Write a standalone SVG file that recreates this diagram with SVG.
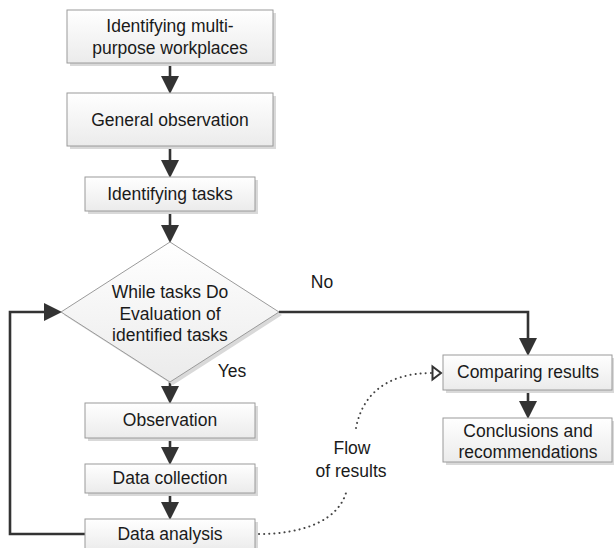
<svg xmlns="http://www.w3.org/2000/svg" width="614" height="548" viewBox="0 0 614 548">
<defs>
<linearGradient id="g" x1="0" y1="0" x2="0" y2="1">
<stop offset="0" stop-color="#ffffff"/>
<stop offset="1" stop-color="#ebebeb"/>
</linearGradient>
<marker id="ah" markerUnits="userSpaceOnUse" markerWidth="18" markerHeight="18" refX="0" refY="8.5" orient="auto" viewBox="0 0 17 17">
<path d="M0,0 L17,8.5 L0,17 z" fill="#333"/>
</marker>
<marker id="oh" markerUnits="userSpaceOnUse" markerWidth="14" markerHeight="18" refX="1" refY="8" orient="auto" viewBox="0 0 14 16">
<path d="M1.5,1.5 L10,8 L1.5,14.5 z" fill="#fff" stroke="#333" stroke-width="2" stroke-linejoin="miter"/>
</marker>
</defs>
<style>
.sh{fill:#d9d9d9}
.bx{fill:url(#g);stroke:#9a9a9a;stroke-width:1}
.t{font-family:"Liberation Sans",Arial,sans-serif;font-size:17.5px;fill:#1a1a1a;text-anchor:middle}
.c{fill:none;stroke:#333;stroke-width:2.6}
.ca{fill:none;stroke:#333;stroke-width:2.6;marker-end:url(#ah)}
.d{fill:none;stroke:#444;stroke-width:2;stroke-linecap:round;stroke-dasharray:0.1 5}
</style>
<rect width="614" height="548" fill="#fff"/>
<g id="connectors">
<path class="ca" d="M170,63 V76"/>
<path class="ca" d="M170,146 V160"/>
<path class="ca" d="M170,211 V225"/>
<path class="ca" d="M170,382 V386"/>
<path class="ca" d="M170,438 V447"/>
<path class="ca" d="M170,493 V502"/>
<path class="ca" d="M279,312 H528 V338"/>
<path class="ca" d="M528,390 V401"/>
<path class="ca" d="M85,534 H10 V312 H44"/>
<path class="d" d="M259,534 C300,534 340,522 347,489"/>
<path class="d" d="M356,428 C362,396 385,373 432,373" marker-end="url(#oh)"/>
<text class="t" x="322" y="288">No</text>
<text class="t" x="232" y="377">Yes</text>
<text class="t" x="352" y="454">Flow</text>
<text class="t" x="351" y="477">of results</text>
</g>
<g id="n1">
<rect class="sh" x="70" y="13" width="206" height="53"/>
<rect class="bx" x="67" y="10" width="206" height="53"/>
<text class="t" x="170" y="32">Identifying multi-</text>
<text class="t" x="170" y="54">purpose workplaces</text>
</g>
<g id="n2">
<rect class="sh" x="70" y="96" width="206" height="53"/>
<rect class="bx" x="67" y="93" width="206" height="53"/>
<text class="t" x="170" y="126">General observation</text>
</g>
<g id="n3">
<rect class="sh" x="88" y="180" width="170" height="34"/>
<rect class="bx" x="85" y="177" width="170" height="34"/>
<text class="t" x="170" y="200">Identifying tasks</text>
</g>
<g id="n4">
<path class="sh" d="M173,245 L282,315 L173,385 L64,315 z"/>
<path class="bx" d="M170,242 L279,312 L170,382 L61,312 z"/>
<text class="t" x="170" y="298">While tasks Do</text>
<text class="t" x="170" y="320">Evaluation of</text>
<text class="t" x="170" y="341">identified tasks</text>
</g>
<g id="n5">
<rect class="sh" x="88" y="406" width="170" height="35"/>
<rect class="bx" x="85" y="403" width="170" height="35"/>
<text class="t" x="170" y="426">Observation</text>
</g>
<g id="n6">
<rect class="sh" x="88" y="467" width="170" height="29"/>
<rect class="bx" x="85" y="464" width="170" height="29"/>
<text class="t" x="170" y="484">Data collection</text>
</g>
<g id="n7">
<rect class="sh" x="88" y="522" width="170" height="32"/>
<rect class="bx" x="85" y="519" width="170" height="32"/>
<text class="t" x="170" y="540">Data analysis</text>
</g>
<g id="n8">
<rect class="sh" x="446" y="358" width="169" height="35"/>
<rect class="bx" x="443" y="355" width="169" height="35"/>
<text class="t" x="528" y="378">Comparing results</text>
</g>
<g id="n9">
<rect class="sh" x="446" y="421" width="169" height="44"/>
<rect class="bx" x="443" y="418" width="169" height="44"/>
<text class="t" x="528" y="437">Conclusions and</text>
<text class="t" x="528" y="458">recommendations</text>
</g>
</svg>
